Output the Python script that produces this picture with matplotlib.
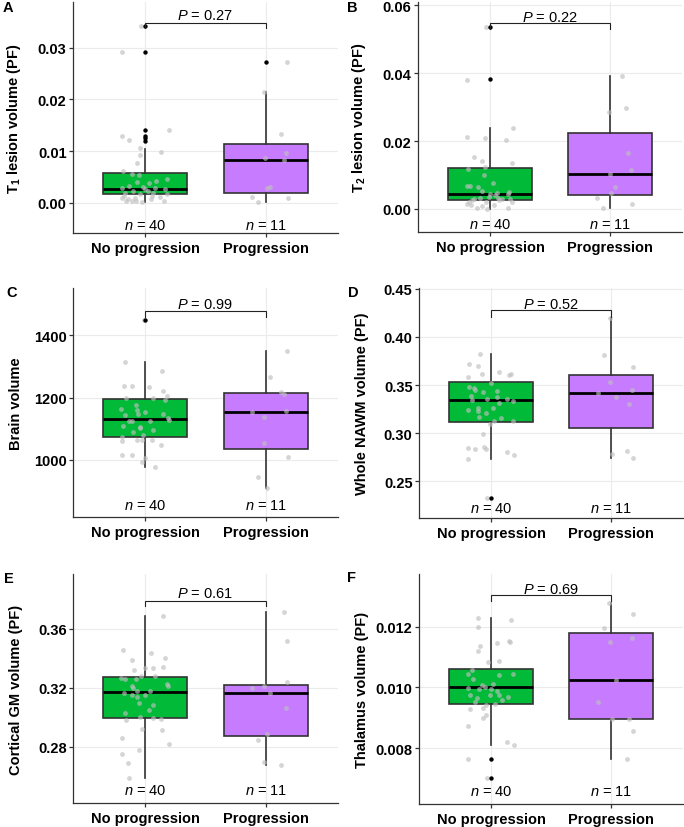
import matplotlib
matplotlib.use("Agg")
import matplotlib.pyplot as plt
import numpy as np

plt.rcParams['font.family'] = ['Liberation Sans', 'DejaVu Sans']
plt.rcParams['mathtext.fontset'] = 'custom'
plt.rcParams['mathtext.rm'] = 'Liberation Sans'
plt.rcParams['mathtext.it'] = 'Liberation Sans:italic'
plt.rcParams['mathtext.bf'] = 'Liberation Sans:bold'

# ---------------- data ----------------
groups = ["No progression", "Progression"]
counts = [40, 11]
box_colors = ["#00BA38", "#C77CFF"]

# Panel A: T1 lesion volume
a_label = r"T$_\mathbf{1}$ lesion volume (PF)"
a_p = "0.27"
a_ticks = [0.00, 0.01, 0.02, 0.03]
a_ticklabels = ["0.00", "0.01", "0.02", "0.03"]
a_box_np = [0.0002, 0.0017, 0.0026, 0.0057, 0.0104]   # whislo, q1, med, q3, whishi
a_box_pr = [0.0002, 0.0020, 0.0083, 0.0114, 0.0215]
a_out_np = [0.0341, 0.0292, 0.0141, 0.0130, 0.0125, 0.0120]
a_out_pr = [0.0273]
a_np_y = [0.0292, 0.0341, 0.0129, 0.0121, 0.0141, 0.0106, 0.0093, 0.0099, 0.0078, 0.0061,
          0.0056, 0.0054, 0.0041, 0.0039, 0.0046, 0.0029, 0.0027, 0.0029, 0.0027, 0.0023,
          0.0020, 0.0020, 0.0017, 0.0014, 0.0014, 0.0010, 0.0010, 0.0004, 0.0004, 0.0004,
          0.0002, 0.0004, 0.0023, 0.0017, 0.0011, 0.0032, 0.0008, 0.0031, 0.0007, 0.0042]
a_np_jit = [-0.194, -0.033, -0.194, -0.136, 0.194, -0.044, -0.044, 0.131, -0.067, -0.186,
            -0.111, -0.053, -0.069, 0.031, 0.183, -0.197, -0.003, 0.083, 0.167, -0.103,
            -0.169, 0.064, 0.183, 0.058, -0.175, -0.197, -0.089, -0.158, -0.111, -0.078,
            -0.028, 0.153, 0.022, -0.047, 0.119, -0.131, 0.050, -0.019, -0.144, 0.092]
a_pr_y = [0.0273, 0.0215, 0.0133, 0.0097, 0.0086, 0.0082, 0.0030, 0.0028, 0.0012, 0.0002, 0.0009]
a_pr_jit = [0.175, -0.011, 0.125, 0.169, -0.006, 0.150, 0.036, 0.008, -0.111, -0.061, 0.181]

# Panel B: T2 lesion volume
b_label = r"T$_\mathbf{2}$ lesion volume (PF)"
b_p = "0.22"
b_ticks = [0.00, 0.02, 0.04, 0.06]
b_ticklabels = ["0.00", "0.02", "0.04", "0.06"]
b_box_np = [0.0000, 0.00255, 0.0045, 0.0120, 0.0239]
b_box_pr = [0.0003, 0.0040, 0.0102, 0.0225, 0.0392]
b_out_np = [0.0536, 0.0382]
b_out_pr = []
b_np_y = [0.0536, 0.0381, 0.0211, 0.0209, 0.0203, 0.0239, 0.0153, 0.0141, 0.0135, 0.0119,
          0.0123, 0.0101, 0.0068, 0.0068, 0.0065, 0.0075, 0.0053, 0.0048, 0.0043, 0.0043,
          0.0032, 0.0032, 0.0029, 0.0029, 0.0026, 0.0021, 0.0015, 0.0021, 0.0010, 0.0003,
          0.0000, 0.0003, 0.0040, 0.0035, 0.0030, 0.0025, 0.0019, 0.0013, 0.0050, 0.0011]
b_np_jit = [-0.036, -0.194, -0.194, -0.044, 0.131, 0.194, -0.133, -0.069, 0.186, -0.181,
            -0.044, -0.053, -0.194, -0.164, -0.103, 0.028, -0.064, 0.061, -0.003, 0.150,
            -0.086, 0.067, 0.103, 0.167, -0.153, -0.175, -0.194, 0.186, -0.069, -0.111,
            -0.028, 0.150, 0.042, -0.008, -0.133, 0.075, -0.036, 0.033, 0.158, -0.161]
b_pr_y = [0.0286, 0.0297, 0.0392, 0.0164, 0.0114, 0.0102, 0.0065, 0.0048, 0.0033, 0.0003, 0.0015]
b_pr_jit = [-0.008, 0.131, 0.103, 0.153, 0.172, -0.003, 0.042, 0.011, -0.108, -0.056, 0.181]

# Panel C: Brain volume
c_label = "Brain volume"
c_p = "0.99"
c_ticks = [1000, 1200, 1400]
c_ticklabels = ["1000", "1200", "1400"]
c_box_np = [977, 1072, 1131, 1196, 1314]
c_box_pr = [909, 1033, 1154, 1213, 1350]
c_out_np = [1449]
c_out_pr = []
c_np_y = [1449, 1314, 1286, 1238, 1238, 1235, 1222, 1206, 1197, 1197,
          1191, 1177, 1163, 1161, 1154, 1147, 1145, 1147, 1134, 1127,
          1125, 1125, 1110, 1105, 1101, 1097, 1089, 1073, 1059, 1064,
          1064, 1063, 1048, 1014, 1014, 1005, 993, 977, 1123, 1080]
c_np_jit = [-0.014, -0.169, 0.136, -0.178, -0.111, 0.031, 0.150, 0.181, -0.156, 0.064,
            0.161, -0.081, -0.200, -0.072, -0.003, -0.058, -0.167, 0.147, 0.189, 0.197,
            -0.139, -0.111, -0.183, -0.044, -0.044, 0.067, -0.103, -0.194, -0.194, -0.067,
            -0.028, 0.053, 0.128, -0.194, -0.111, -0.006, -0.028, 0.083, 0.036, -0.019]
c_pr_y = [1350, 1266, 1218, 1211, 1158, 1154, 1139, 1054, 1010, 945, 909]
c_pr_jit = [0.175, 0.036, 0.128, 0.150, 0.169, -0.111, -0.011, -0.011, 0.181, -0.067, 0.008]

# Panel D: Whole NAWM volume
d_label = "Whole NAWM volume (PF)"
d_p = "0.52"
d_ticks = [0.25, 0.30, 0.35, 0.40, 0.45]
d_ticklabels = ["0.25", "0.30", "0.35", "0.40", "0.45"]
d_box_np = [0.2738, 0.3117, 0.3345, 0.3534, 0.3821]
d_box_pr = [0.2748, 0.3055, 0.3417, 0.3603, 0.4197]
d_out_np = [0.2328]
d_out_pr = []
d_np_y = [0.2328, 0.3821, 0.3721, 0.3700, 0.3638, 0.3614, 0.3603, 0.3610, 0.3586, 0.3517,
          0.3483, 0.3472, 0.3431, 0.3434, 0.3390, 0.3345, 0.3352, 0.3352, 0.3338, 0.3314,
          0.3266, 0.3241, 0.3234, 0.3210, 0.3169, 0.3155, 0.3128, 0.3128, 0.3097, 0.2993,
          0.2852, 0.2834, 0.2859, 0.2841, 0.2810, 0.2772, 0.2738, 0.3259, 0.3379, 0.3448]
d_np_jit = [-0.036, -0.092, -0.181, -0.111, 0.069, -0.075, 0.150, 0.164, -0.194, 0.000,
            -0.181, -0.142, -0.069, 0.050, -0.167, -0.156, -0.031, 0.136, 0.186, 0.064,
            -0.111, -0.194, -0.106, -0.044, -0.097, 0.083, 0.028, 0.186, -0.008, -0.069,
            -0.194, -0.131, -0.056, -0.044, 0.131, 0.194, -0.194, 0.019, 0.047, -0.133]
d_pr_y = [0.4197, 0.3810, 0.3528, 0.3686, 0.3417, 0.3379, 0.3448, 0.3300, 0.2786, 0.2821, 0.2748]
d_pr_jit = [-0.008, -0.058, -0.008, 0.181, -0.111, 0.042, 0.175, 0.153, 0.011, 0.131, 0.181]

# Panel E: Cortical GM volume
e_label = "Cortical GM volume (PF)"
e_p = "0.61"
e_ticks = [0.28, 0.32, 0.36]
e_ticklabels = ["0.28", "0.32", "0.36"]
e_box_np = [0.2589, 0.2993, 0.3169, 0.3274, 0.3688]
e_box_pr = [0.2679, 0.2870, 0.3162, 0.3220, 0.3715]
e_out_np = []
e_out_pr = []
e_np_y = [0.3688, 0.3454, 0.3434, 0.3384, 0.3398, 0.3342, 0.3319, 0.3330, 0.3333, 0.3276,
          0.3276, 0.3265, 0.3261, 0.3258, 0.3211, 0.3222, 0.3211, 0.3196, 0.3164, 0.3175,
          0.3151, 0.3148, 0.3139, 0.3099, 0.3085, 0.3047, 0.3027, 0.3004, 0.2993, 0.2989,
          0.2980, 0.2919, 0.2912, 0.2861, 0.2822, 0.2778, 0.2751, 0.2688, 0.2589, 0.3178]
e_np_jit = [0.147, -0.186, 0.050, -0.111, 0.161, 0.147, -0.092, -0.003, 0.067, 0.083,
            -0.033, -0.200, -0.169, -0.075, -0.111, 0.183, 0.189, -0.103, -0.175, -0.072,
            -0.108, 0.000, -0.067, -0.050, 0.064, 0.028, -0.169, -0.044, 0.067, 0.131,
            -0.158, -0.028, 0.136, -0.194, 0.194, -0.053, -0.194, -0.147, -0.139, 0.036]
e_pr_y = [0.3715, 0.3515, 0.3236, 0.3198, 0.3213, 0.3162, 0.3065, 0.2885, 0.2849, 0.2694, 0.2679]
e_pr_jit = [0.150, 0.175, 0.175, -0.111, -0.011, 0.036, 0.169, 0.008, -0.061, -0.011, 0.125]

# Panel F: Thalamus volume
f_label = "Thalamus volume (PF)"
f_p = "0.69"
f_ticks = [0.008, 0.010, 0.012]
f_ticklabels = ["0.008", "0.010", "0.012"]
f_box_np = [0.00810, 0.00944, 0.01000, 0.01062, 0.01228]
f_box_pr = [0.00766, 0.00897, 0.01023, 0.01180, 0.01278]
f_out_np = [0.00766, 0.00701]
f_out_pr = []
f_np_y = [0.00701, 0.00766, 0.01228, 0.01223, 0.01198, 0.01137, 0.01145, 0.01152, 0.01121, 0.01082,
          0.01086, 0.01057, 0.01043, 0.01042, 0.01043, 0.01028, 0.01008, 0.00999, 0.00996, 0.01001,
          0.00996, 0.00975, 0.00975, 0.00975, 0.00968, 0.00957, 0.00952, 0.00943, 0.00946, 0.00930,
          0.00933, 0.00908, 0.00898, 0.00873, 0.00821, 0.00810, 0.01148, 0.01010, 0.00966, 0.00988]
f_np_jit = [-0.036, -0.194, -0.111, 0.164, -0.106, -0.092, 0.053, 0.150, -0.111, -0.028,
            0.067, -0.158, -0.194, 0.067, 0.186, -0.147, -0.075, -0.194, -0.100, -0.047,
            0.000, -0.175, -0.008, 0.064, 0.139, 0.089, -0.133, -0.044, 0.033, -0.175,
            -0.064, -0.042, -0.064, -0.194, 0.131, 0.194, 0.158, 0.019, -0.119, 0.047]
f_pr_y = [0.01278, 0.01243, 0.01197, 0.01148, 0.01163, 0.01023, 0.00951, 0.00897, 0.00897, 0.00856, 0.00766]
f_pr_jit = [-0.014, 0.181, -0.058, -0.008, 0.172, 0.042, -0.111, 0.011, 0.153, 0.181, 0.131]

panels = [
    dict(letter="A", label=a_label, p=a_p, ticks=a_ticks, ticklabels=a_ticklabels,
         boxes=[a_box_np, a_box_pr], outs=[a_out_np, a_out_pr],
         ys=[a_np_y, a_pr_y], jits=[a_np_jit, a_pr_jit]),
    dict(letter="B", label=b_label, p=b_p, ticks=b_ticks, ticklabels=b_ticklabels,
         boxes=[b_box_np, b_box_pr], outs=[b_out_np, b_out_pr],
         ys=[b_np_y, b_pr_y], jits=[b_np_jit, b_pr_jit]),
    dict(letter="C", label=c_label, p=c_p, ticks=c_ticks, ticklabels=c_ticklabels,
         boxes=[c_box_np, c_box_pr], outs=[c_out_np, c_out_pr],
         ys=[c_np_y, c_pr_y], jits=[c_np_jit, c_pr_jit]),
    dict(letter="D", label=d_label, p=d_p, ticks=d_ticks, ticklabels=d_ticklabels,
         boxes=[d_box_np, d_box_pr], outs=[d_out_np, d_out_pr],
         ys=[d_np_y, d_pr_y], jits=[d_np_jit, d_pr_jit]),
    dict(letter="E", label=e_label, p=e_p, ticks=e_ticks, ticklabels=e_ticklabels,
         boxes=[e_box_np, e_box_pr], outs=[e_out_np, e_out_pr],
         ys=[e_np_y, e_pr_y], jits=[e_np_jit, e_pr_jit]),
    dict(letter="F", label=f_label, p=f_p, ticks=f_ticks, ticklabels=f_ticklabels,
         boxes=[f_box_np, f_box_pr], outs=[f_out_np, f_out_pr],
         ys=[f_np_y, f_pr_y], jits=[f_np_jit, f_pr_jit]),
]

# ---------------- layout (pixels / axis limits) ----------------
W, H = 684, 828
# left, right, top, bottom in pixels
rects = [(73, 338, 3, 234), (418, 682, 3, 233),
         (73, 338, 289, 518), (419, 683, 289, 519),
         (73, 338, 575, 804), (419, 683, 575, 805)]
ylims = [(-0.0058, 0.0388), (-0.0068, 0.061), (816, 1552),
         (0.2121, 0.4507), (0.2420, 0.3969), (0.006164, 0.01373)]
# bracket bar y, bracket drop y, P text y, n text y
annot = [(0.0348, 0.0338, 0.0362, -0.0042),
         (0.0548, 0.0531, 0.0566, -0.0044),
         (1479, 1458, 1501, 853),
         (0.4279, 0.4207, 0.4341, 0.2224),
         (0.3789, 0.3751, 0.3840, 0.2508),
         (0.01305, 0.01283, 0.01325, 0.00658)]
letter_pos = [(8, 8), (352, 8), (12, 293), (353, 293), (9, 579), (352, 578)]

FS = 10.5
dark = "#333333"

fig = plt.figure(figsize=(W / 100, H / 100), dpi=100)

for i, pn in enumerate(panels):
    l, r, t, b = rects[i]
    ax = fig.add_axes([l / W, 1 - b / H, (r - l) / W, (b - t) / H])
    ax.set_xlim(0.4, 2.6)
    ax.set_ylim(*ylims[i])

    # grid
    ax.set_axisbelow(True)
    ax.grid(True, color="#ebebeb", lw=0.8)

    # boxes
    stats = []
    for k, bx in enumerate(pn["boxes"]):
        stats.append(dict(whislo=bx[0], q1=bx[1], med=bx[2], q3=bx[3], whishi=bx[4], fliers=[]))
    bp = ax.bxp(stats, positions=[1, 2], widths=0.7, patch_artist=True, showcaps=False,
                showfliers=False,
                boxprops=dict(edgecolor=dark, linewidth=1.2),
                whiskerprops=dict(color=dark, linewidth=1.2),
                medianprops=dict(color="black", linewidth=2.0, solid_capstyle="butt"),
                zorder=2)
    for patch, col in zip(bp["boxes"], box_colors):
        patch.set_facecolor(col)

    # jittered points
    for k in range(2):
        xs = (k + 1) + np.array(pn["jits"][k])
        ax.scatter(xs, pn["ys"][k], s=12, color="#bfbfbf", alpha=0.65, linewidths=0, zorder=3)
    # outliers
    for k in range(2):
        if len(pn["outs"][k]):
            ax.scatter([k + 1] * len(pn["outs"][k]), pn["outs"][k], s=10, color="black",
                       linewidths=0, zorder=4)

    # bracket and p value
    ybar, ydrop, yp, yn = annot[i]
    ax.plot([1, 1, 2, 2], [ydrop, ybar, ybar, ydrop], color="#222222", lw=0.8,
            solid_joinstyle="miter", zorder=5)
    ax.text(1.5, yp, r"$\mathit{P}$ = " + pn["p"], ha="center", va="center", fontsize=FS, zorder=6)
    for k in range(2):
        ax.text(k + 1, yn, r"$\mathit{n}$ = " + str(counts[k]), ha="center", va="center",
                fontsize=FS, zorder=6)

    # axes styling
    for s in ["top", "right"]:
        ax.spines[s].set_visible(False)
    for s in ["left", "bottom"]:
        ax.spines[s].set_color(dark)
        ax.spines[s].set_linewidth(0.9)
    ax.set_xticks([1, 2])
    ax.set_xticklabels(groups, fontsize=FS, fontweight="bold")
    ax.set_yticks(pn["ticks"])
    ax.set_yticklabels(pn["ticklabels"], fontsize=FS, fontweight="bold")
    ax.tick_params(axis="both", length=2.6, width=0.9, color=dark, labelcolor="black")
    ax.tick_params(axis="x", pad=3.5)
    ax.tick_params(axis="y", pad=2)
    ax.set_ylabel(pn["label"], fontsize=FS, fontweight="bold")
    ax.yaxis.set_label_coords(-50 / (r - l), 0.5)

    lx, ly = letter_pos[i]
    fig.text(lx / W, 1 - ly / H, pn["letter"], ha="center", va="center",
             fontsize=FS, fontweight="bold")

fig.savefig("out.png", dpi=100)
